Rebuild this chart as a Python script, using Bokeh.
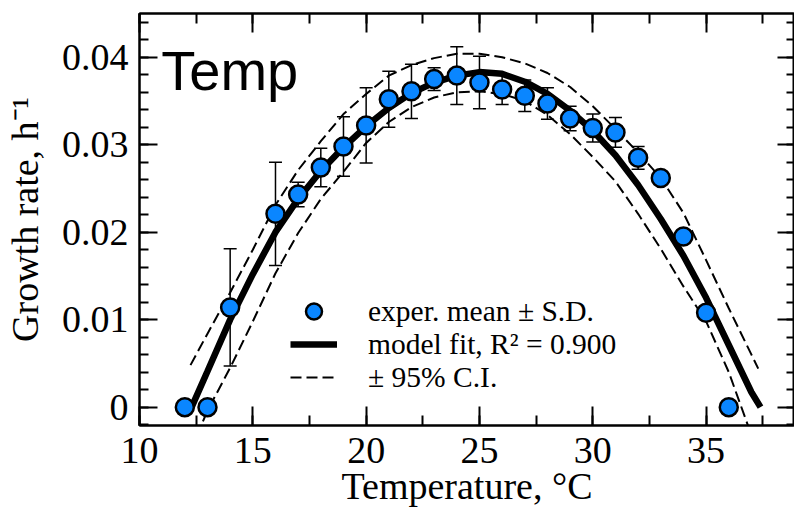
from bokeh.plotting import figure
from bokeh.models import (ColumnDataSource, Whisker, TeeHead, LinearAxis, SingleIntervalTicker,
                          CustomJSTickFormatter, Legend, LegendItem, Label, Range1d)
from bokeh.embed import file_html
from bokeh.resources import INLINE

# ---- experimental data (mean +/- SD) ----
temps = [12, 13, 14, 16, 17, 18, 19, 20, 21, 22, 23, 24, 25, 26, 27, 28, 29, 30, 31, 32, 33, 34, 35, 36]
growth = [0.0, 0.0, 0.0114, 0.0221, 0.0243, 0.0274, 0.0298, 0.0322, 0.0352, 0.0361, 0.0375, 0.0379,
          0.0371, 0.0363, 0.0356, 0.0347, 0.0330, 0.0319, 0.0314, 0.0285, 0.0262, 0.0195, 0.0108, 0.0]
sd = [0.0, 0.0, 0.0067, 0.0059, 0.0014, 0.0022, 0.0034, 0.0043, 0.0032, 0.0031, 0.0013, 0.0033,
      0.0030, 0.0017, 0.0018, 0.0018, 0.0014, 0.0016, 0.0017, 0.0013, 0.0004, 0.0, 0.0, 0.0]

# ---- model fit curve ----
fit_temp = [12.3, 13, 14, 15, 16, 17, 18, 19, 20, 21, 22, 23, 24, 25, 26, 27, 28, 29, 30, 31, 32,
            33, 34, 35, 36, 37, 37.4]
fit_rate = [0.0, 0.0041, 0.0100, 0.0152, 0.0200, 0.0238, 0.0270, 0.0297, 0.0321, 0.0342, 0.0359,
            0.0371, 0.0379, 0.0383, 0.0381, 0.0372, 0.0358, 0.0339, 0.0316, 0.0288, 0.0254,
            0.0215, 0.0173, 0.0125, 0.0071, 0.0017, 0.0]

# ---- 95% confidence band ----
ci_temp = [12.25, 13, 14, 15, 16, 17, 18, 19, 20, 21, 22, 23, 24, 25, 26, 27, 28, 29, 30, 31, 32,
           33, 34, 35, 36, 37, 37.3]
ci_upper = [0.0048, 0.0084, 0.0131, 0.0180, 0.0231, 0.0271, 0.0304, 0.0335, 0.0358, 0.0379, 0.0391,
            0.0399, 0.0404, 0.0404, 0.0400, 0.0393, 0.0382, 0.0366, 0.0344, 0.0318, 0.0291,
            0.0262, 0.0222, 0.0168, 0.0113, 0.0060, 0.0044]
ci_lower = [-0.0050, -0.0004, 0.0045, 0.0098, 0.0153, 0.0199, 0.0238, 0.0269, 0.0302, 0.0326, 0.0343,
            0.0354, 0.0360, 0.0361, 0.0358, 0.0350, 0.0334, 0.0312, 0.0286, 0.0258, 0.0221,
            0.0181, 0.0138, 0.0098, 0.0040, -0.0032, -0.0050]

x_ticks_interval = 5
y_ticks_interval = 0.01

pts_src = ColumnDataSource(dict(
    t=temps, g=growth,
    lo=[g - s for g, s in zip(growth, sd)],
    hi=[g + s for g, s in zip(growth, sd)],
))
fit_src = ColumnDataSource(dict(t=fit_temp, g=fit_rate))
ci_src = ColumnDataSource(dict(t=ci_temp, up=ci_upper, lo=ci_lower))

p = figure(width=794, height=509, x_range=Range1d(10, 38.9), y_range=Range1d(-0.0021, 0.045),
           output_backend="svg", toolbar_location=None,
           min_border_left=139, min_border_right=0, min_border_top=13, min_border_bottom=84)
p.grid.visible = False
p.outline_line_color = "black"
p.outline_line_width = 2
p.background_fill_color = "white"
p.border_fill_color = "white"

SERIF = "Liberation Serif"


def style_axis(ax, maj, minr):
    ax.major_tick_in = maj
    ax.major_tick_out = 0
    ax.minor_tick_in = minr
    ax.minor_tick_out = 0
    ax.major_tick_line_width = 2
    ax.minor_tick_line_width = 2
    ax.major_tick_line_color = "black"
    ax.minor_tick_line_color = "black"
    ax.axis_line_width = 2
    ax.axis_line_color = "black"


xax = p.xaxis[0]
yax = p.yaxis[0]
xax.ticker = SingleIntervalTicker(interval=x_ticks_interval, num_minor_ticks=2)
yax.ticker = SingleIntervalTicker(interval=y_ticks_interval, num_minor_ticks=5)
yax.formatter = CustomJSTickFormatter(code="return Math.abs(tick) < 1e-9 ? '0' : tick.toFixed(2);")
style_axis(xax, 19, 10)
style_axis(yax, 18, 9)
for ax in (xax, yax):
    ax.major_label_text_font = SERIF
    ax.major_label_text_font_size = "38px"
    ax.major_label_text_color = "black"
    ax.axis_label_text_font = SERIF
    ax.axis_label_text_font_size = "38px"
    ax.axis_label_text_font_style = "normal"
    ax.axis_label_text_color = "black"
xax.axis_label = "Temperature, °C"
yax.axis_label = "Growth rate, h⁻¹"
xax.major_label_standoff = 12
xax.axis_label_standoff = -1
yax.major_label_standoff = 11
yax.axis_label_standoff = 13

blank = "return '';"
top_ax = LinearAxis(ticker=SingleIntervalTicker(interval=x_ticks_interval, num_minor_ticks=2),
                    formatter=CustomJSTickFormatter(code=blank),
                    major_label_text_font_size="0px", major_label_standoff=0)
right_ax = LinearAxis(ticker=SingleIntervalTicker(interval=y_ticks_interval, num_minor_ticks=5),
                      formatter=CustomJSTickFormatter(code=blank),
                      major_label_text_font_size="0px", major_label_standoff=0)
style_axis(top_ax, 19, 10)
style_axis(right_ax, 17, 8)
p.add_layout(top_ax, "above")
p.add_layout(right_ax, "right")

# error bars
whisk = Whisker(source=pts_src, base="t", upper="hi", lower="lo", dimension="height",
                line_color="black", line_width=1.5,
                upper_head=TeeHead(size=13, line_width=1.5, line_color="black"),
                lower_head=TeeHead(size=13, line_width=1.5, line_color="black"))
p.add_layout(whisk)

dash = "11 5"
up_r = p.line("t", "up", source=ci_src, line_color="black", line_width=2, line_dash=dash)
lo_r = p.line("t", "lo", source=ci_src, line_color="black", line_width=2, line_dash=dash)
fit_r = p.line("t", "g", source=fit_src, line_color="black", line_width=6.5)
pts_r = p.scatter("t", "g", source=pts_src, size=18, marker="circle",
                  fill_color="#0a86ff", line_color="black", line_width=2.5)

legend_rows = [
    ("exper. mean ± S.D.", pts_r, 94),
    ("model fit, R² = 0.900", fit_r, 61),
    ("± 95% C.I.", up_r, 28),
]
for label, rend, loc_y in legend_rows:
    lg = Legend(items=[LegendItem(label=label, renderers=[rend])],
                location=(151, loc_y), orientation="vertical", padding=0, margin=0, spacing=0,
                glyph_width=47, glyph_height=40, label_height=40, label_standoff=31,
                label_text_font=SERIF, label_text_font_size="29.5px", label_text_color="black",
                background_fill_alpha=0, border_line_alpha=0)
    p.add_layout(lg)

p.add_layout(Label(x=10.96, y=0.0385, text="Temp", text_font="Liberation Sans",
                   text_font_size="56px", text_color="black", text_baseline="alphabetic"))

open("out.html", "w").write(file_html(p, INLINE))
